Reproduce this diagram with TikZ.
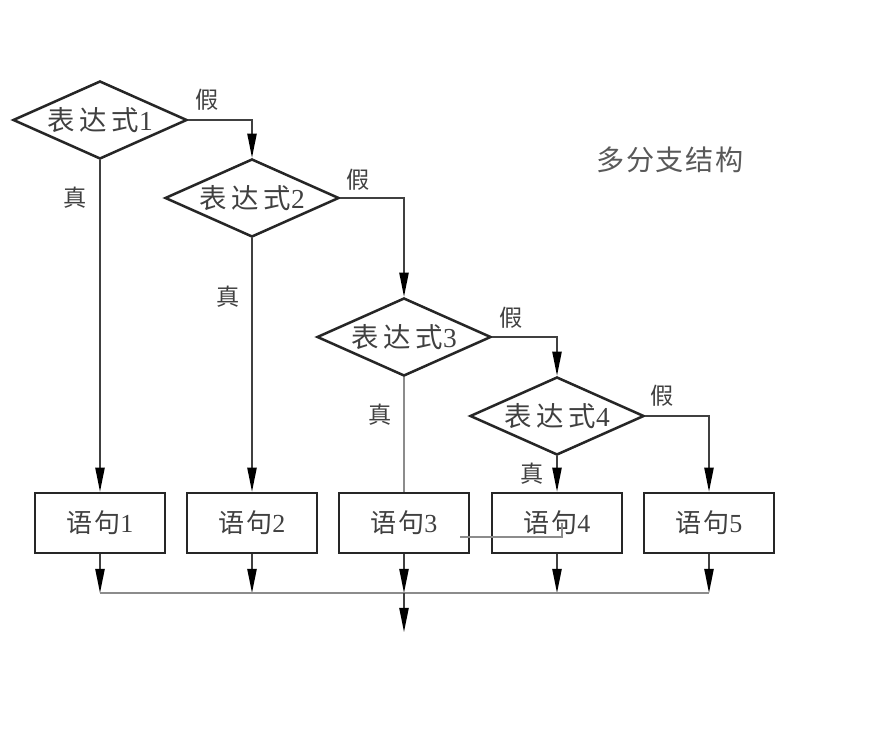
\documentclass[tikz,border=0pt]{standalone}
\usepackage{fontspec}
\setmainfont{Liberation Serif}
\newfontfamily\cjk[LetterSpace=18]{Noto Sans CJK SC}
\newfontfamily\cjkb[LetterSpace=6]{Noto Sans CJK SC}
\newfontfamily\cjkt[LetterSpace=6]{Noto Sans CJK SC}
\usetikzlibrary{arrows.meta,shapes.geometric,calc}

\begin{document}
\begin{tikzpicture}[x=0.025cm,y=-0.025cm,>={Triangle[length=6mm,width=2.3mm]},
  cond/.style={diamond,draw=black!85,line width=1.8pt,inner sep=0pt,minimum width=4.35cm,minimum height=1.95cm},
  stmt/.style={draw=black!85,line width=1.8pt,minimum width=3.25cm,minimum height=1.5cm,text=black!75,font=\fontsize{18.5}{21}\selectfont},
  flow/.style={-{Triangle[length=6mm,width=2.3mm,black]},line width=1.1pt,draw=black!75},
  thin/.style={line width=0.8pt,draw=black!45},
  tag/.style={text=black!75,font=\fontsize{16.5}{19}\selectfont\cjkb}]
\useasboundingbox (0,0) rectangle (886,753);
% decisions
\foreach \n/\x/\y in {1/100/120,2/252/198,3/404/337,4/557/416}
  \node[cond,label={[text=black!75,font=\fontsize{19.5}{22}\selectfont]center:{\cjk 表达式}\n}] (d\n) at (\x,\y) {};
% statements
\foreach \n/\x in {1/100,2/252,3/404,4/557,5/709}
  \node[stmt] (b\n) at (\x,523) {{\cjkb 语句}\n};
\node[text=black!65,font=\fontsize{20}{24}\selectfont\cjkt] (title) at (670,160) {多分支结构};
% false branches
\draw[flow] (d1.east) -| (d2.north);
\draw[flow] (d2.east) -| (d3.north);
\draw[flow] (d3.east) -| (d4.north);
\draw[flow] (d4.east) -| (b5.north);
\node[tag] (f1) at (207,100) {假};
\node[tag] (f2) at (358,180) {假};
\node[tag] (f3) at (511,318) {假};
\node[tag] (f4) at (662,396) {假};
% true branches
\draw[flow] (d1.south) -- (b1.north);
\draw[flow] (d2.south) -- (b2.north);
\draw[thin] (d3.south) -- (b3.north);
\draw[flow] (d4.south) -- (b4.north);
\node[tag] (t1) at (75,198) {真};
\node[tag] (t2) at (228,297) {真};
\node[tag] (t3) at (380,415) {真};
\node[tag] (t4) at (532,474) {真};
% merge
\coordinate (m1) at (100,593);
\coordinate (m5) at (709,593);
\coordinate (out) at (404,632);
\foreach \n in {1,...,5}
  \draw[flow] (b\n.south) -- (b\n.south |- m1);
\draw[thin] (m1) -- (m5);
\draw[flow] (b3.south |- m1) -- (out);
\coordinate (s1) at ($(b3.east)+(-10,14)$);
\coordinate (s2) at ($(b4.center)+(5,0)$);
\draw[thin] (s1) -| (s2);
\end{tikzpicture}
\end{document}
